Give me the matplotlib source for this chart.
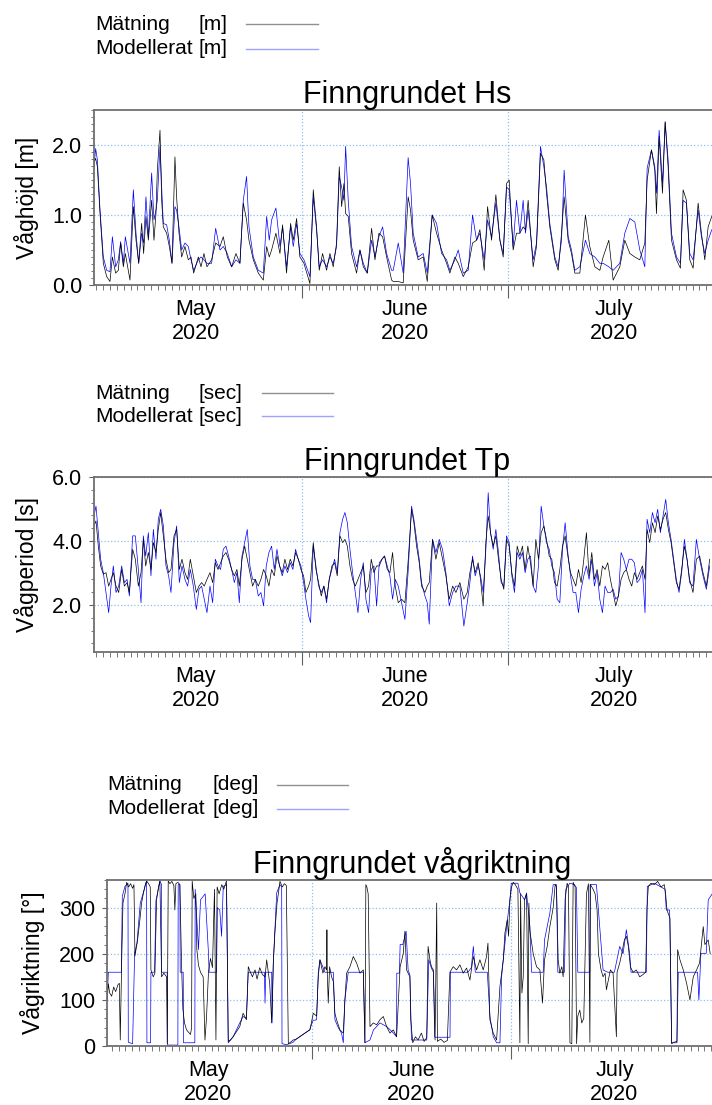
import matplotlib
matplotlib.use('Agg')
import matplotlib.pyplot as plt
import matplotlib.dates as mdates
from matplotlib.lines import Line2D
from matplotlib.ticker import MultipleLocator, FixedLocator, NullFormatter
from datetime import datetime
import numpy as np

plt.rcParams['font.family'] = ['Liberation Sans', 'DejaVu Sans']

#----------------------------------------------------
# Data (days after 2020-05-01 00:00)
#----------------------------------------------------
hs_days = [0.67, 0.91, 1.16, 1.55, 2.03, 2.52, 3.0, 3.35, 3.83, 4.22,
           4.56, 4.95, 5.24, 5.58, 5.92, 6.41, 6.8, 7.19, 7.62, 7.91,
           8.25, 8.6, 9.08, 9.42, 9.71, 9.91, 10.3, 10.54, 10.78, 11.27,
           11.66, 12.05, 12.48, 12.72, 13.07, 13.46, 13.94, 14.43, 14.82, 15.21,
           15.89, 16.28, 16.71, 17.15, 17.83, 18.42, 19.05, 19.53, 20.12, 20.75,
           21.38, 21.96, 22.45, 22.93, 23.28, 23.91, 24.64, 25.37, 25.86, 26.24,
           26.58, 27.21, 27.8, 28.18, 28.76, 29.35, 29.74, 30.23, 30.71, 31.3,
           32.17, 32.66, 33.14, 33.53, 34.02, 34.6, 35.09, 35.57, 36.06, 36.45,
           36.8, 37.13, 37.38, 37.76, 38.25, 38.98, 39.47, 39.96, 40.54, 41.17,
           41.66, 42.24, 42.78, 43.36, 44.09, 44.33, 45.06, 45.78, 46.5, 46.85,
           47.24, 47.97, 48.7, 49.29, 50.01, 50.65, 51.38, 52.11, 52.59, 53.32,
           53.81, 54.54, 55.27, 55.9, 56.48, 56.97, 57.6, 58.09, 58.67, 59.3,
           59.89, 60.37, 60.86, 61.24, 61.82, 62.31, 62.8, 63.28, 63.62, 64.01,
           64.74, 65.23, 65.81, 66.3, 66.69, 67.17, 67.9, 68.39, 68.88, 69.26,
           69.85, 70.33, 70.82, 71.55, 72.37, 73.0, 73.74, 74.47, 74.95, 75.78,
           76.41, 77.38, 78.11, 78.85, 79.57, 80.3, 81.03, 81.37, 82.0, 82.49,
           82.73, 83.12, 83.61, 84.0, 84.43, 84.92, 85.65, 86.23, 86.62, 87.1,
           87.59, 88.08, 88.81, 89.29, 89.78, 90.27, 90.8]
hs_obs = [1.74, 1.81, 1.69, 1.02, 0.31, 0.12, 0.05, 0.40, 0.17, 0.21,
          0.60, 0.26, 0.45, 0.26, 0.07, 1.12, 0.64, 0.31, 0.88, 0.45,
          0.98, 0.64, 1.21, 0.64, 1.02, 1.64, 2.21, 1.21, 0.83, 0.74,
          0.55, 0.31, 1.83, 1.26, 0.74, 0.40, 0.55, 0.36, 0.40, 0.17,
          0.40, 0.26, 0.45, 0.26, 0.36, 0.60, 0.55, 0.69, 0.40, 0.26,
          0.45, 0.31, 1.17, 0.93, 0.64, 0.36, 0.17, 0.07, 0.55, 0.40,
          0.50, 0.74, 0.45, 0.86, 0.17, 0.88, 0.64, 0.95, 0.40, 0.31,
          0.02, 1.36, 0.83, 0.21, 0.45, 0.21, 0.45, 0.26, 0.60, 1.69,
          1.12, 1.45, 1.02, 0.98, 0.45, 0.17, 0.50, 0.26, 0.17, 0.81,
          0.36, 0.74, 0.69, 0.40, 0.07, 0.05, 0.05, 0.03, 1.26, 1.07,
          0.64, 0.36, 0.40, 0.05, 1.00, 0.74, 0.50, 0.31, 0.17, 0.40,
          0.31, 0.12, 0.26, 0.60, 0.64, 0.79, 0.21, 1.12, 0.64, 1.29,
          0.64, 0.40, 1.45, 1.50, 0.50, 0.74, 0.74, 0.83, 0.79, 1.21,
          0.26, 0.55, 1.88, 1.79, 1.31, 0.83, 0.36, 0.21, 0.74, 1.26,
          0.64, 0.45, 0.17, 0.17, 1.00, 0.55, 0.26, 0.21, 0.40, 0.64,
          0.07, 0.26, 0.64, 0.45, 0.40, 0.36, 0.60, 1.50, 1.93, 1.64,
          1.02, 2.12, 1.31, 2.33, 1.69, 0.64, 0.36, 0.24, 1.36, 1.21,
          0.36, 0.24, 1.17, 0.74, 0.36, 0.83, 0.98]
hs_mod = [1.69, 1.95, 1.79, 1.07, 0.40, 0.21, 0.19, 0.69, 0.26, 0.36,
          0.62, 0.31, 0.69, 0.50, 0.31, 1.36, 0.74, 0.31, 0.74, 0.60,
          1.26, 0.69, 1.60, 0.93, 1.07, 1.21, 1.98, 1.40, 0.88, 0.86,
          0.64, 0.31, 1.12, 1.07, 0.83, 0.50, 0.60, 0.55, 0.36, 0.21,
          0.36, 0.40, 0.36, 0.31, 0.31, 0.81, 0.50, 0.55, 0.45, 0.26,
          0.36, 0.31, 1.21, 1.55, 0.83, 0.40, 0.21, 0.17, 0.98, 0.64,
          0.93, 1.10, 0.55, 0.83, 0.26, 0.83, 0.55, 0.88, 0.45, 0.36,
          0.12, 1.26, 0.79, 0.26, 0.36, 0.26, 0.40, 0.31, 0.55, 1.55,
          1.40, 1.21, 1.98, 1.21, 0.55, 0.26, 0.50, 0.31, 0.17, 0.64,
          0.40, 0.69, 0.83, 0.45, 0.21, 0.21, 0.60, 0.17, 1.82, 1.45,
          0.74, 0.40, 0.45, 0.17, 1.00, 0.88, 0.45, 0.36, 0.21, 0.36,
          0.50, 0.17, 0.21, 1.00, 0.64, 0.74, 0.36, 0.93, 0.69, 1.17,
          0.64, 0.45, 1.40, 1.36, 0.55, 1.21, 0.74, 1.21, 0.74, 1.07,
          0.36, 0.60, 1.98, 1.69, 1.40, 0.88, 0.40, 0.26, 0.64, 1.64,
          0.69, 0.50, 0.21, 0.26, 0.64, 0.45, 0.40, 0.31, 0.31, 0.26,
          0.21, 0.31, 0.74, 0.95, 0.90, 0.50, 0.26, 1.67, 1.93, 1.69,
          1.31, 2.21, 1.45, 2.33, 1.79, 0.74, 0.40, 0.31, 1.21, 1.17,
          0.45, 0.36, 1.07, 0.69, 0.45, 0.64, 0.79]

tp_days = [0.67, 0.96, 1.3, 1.64, 2.03, 2.42, 2.81, 3.15, 3.49, 3.88,
           4.27, 4.71, 5.1, 5.49, 5.83, 6.31, 6.7, 7.14, 7.53, 7.87,
           8.21, 8.6, 8.98, 9.33, 9.71, 10.05, 10.4, 10.79, 11.17, 11.56,
           11.9, 12.34, 12.73, 13.12, 13.51, 13.94, 14.33, 14.72, 15.16, 15.6,
           15.98, 16.37, 16.76, 17.15, 17.59, 17.98, 18.37, 18.76, 19.14, 19.53,
           19.92, 20.31, 20.75, 21.14, 21.52, 21.87, 22.26, 22.65, 23.03, 23.42,
           23.81, 24.2, 24.64, 25.02, 25.41, 25.8, 26.19, 26.58, 26.97, 27.36,
           27.75, 28.13, 28.52, 28.91, 29.3, 29.69, 30.08, 30.47, 30.86, 31.25,
           31.59, 31.98, 32.27, 32.66, 33.05, 33.44, 33.83, 34.21, 34.6, 34.99,
           35.38, 35.77, 36.16, 36.55, 36.94, 37.28, 37.63, 38.01, 38.4, 38.79,
           39.18, 39.57, 39.96, 40.34, 40.73, 41.12, 41.51, 41.9, 42.29, 42.68,
           43.06, 43.45, 43.84, 44.23, 44.62, 45.06, 45.54, 46.03, 46.52, 47.0,
           47.34, 47.73, 48.12, 48.46, 48.95, 49.29, 49.58, 50.06, 50.55, 51.04,
           51.52, 52.01, 52.5, 52.99, 53.47, 54.05, 54.63, 55.12, 55.51, 55.9,
           56.28, 56.72, 57.06, 57.45, 57.84, 58.18, 58.52, 58.91, 59.3, 59.68,
           60.07, 60.46, 60.85, 61.24, 61.63, 62.02, 62.41, 62.8, 63.18, 63.57,
           63.96, 64.35, 64.74, 65.13, 65.52, 65.91, 66.3, 66.69, 67.08, 67.46,
           67.85, 68.24, 68.63, 69.02, 69.41, 69.8, 70.19, 70.57, 70.96, 71.35,
           71.74, 72.13, 72.51, 72.9, 73.29, 73.68, 74.07, 74.46, 74.85, 75.23,
           75.62, 76.01, 76.4, 76.79, 77.18, 77.57, 77.95, 78.34, 78.73, 79.12,
           79.51, 79.9, 80.29, 80.68, 81.06, 81.36, 81.75, 82.14, 82.53, 82.91,
           83.3, 83.69, 84.08, 84.47, 84.86, 85.24, 85.63, 86.02, 86.41, 86.8,
           87.19, 87.57, 88.06, 88.55, 89.03, 89.52, 90.01, 90.5]
tp_obs = [4.47, 4.63, 3.84, 3.22, 2.96, 3.01, 2.59, 2.80, 3.01, 2.59,
          2.39, 3.11, 2.59, 2.70, 2.39, 3.74, 3.43, 2.59, 3.01, 4.05,
          3.22, 3.64, 3.11, 3.95, 3.64, 4.36, 4.89, 4.16, 3.43, 3.01,
          3.11, 4.16, 4.36, 3.11, 3.43, 3.01, 2.80, 3.43, 2.91, 2.39,
          2.59, 2.70, 2.59, 2.80, 3.01, 2.70, 3.32, 3.11, 3.32, 3.53,
          3.64, 3.43, 3.11, 2.91, 3.11, 2.59, 3.43, 3.84, 3.43, 3.01,
          2.59, 2.80, 2.59, 2.80, 3.11, 2.91, 2.59, 3.11, 2.91, 3.53,
          3.22, 3.01, 3.43, 3.11, 3.43, 3.22, 3.64, 3.43, 3.11, 2.91,
          2.39, 2.59, 2.80, 3.95, 3.11, 2.70, 2.28, 2.59, 2.18, 2.80,
          3.22, 3.32, 2.91, 4.16, 3.95, 4.05, 3.84, 3.22, 2.80, 2.59,
          2.80, 3.01, 3.22, 2.39, 2.59, 3.43, 3.01, 3.22, 3.22, 3.43,
          3.53, 3.11, 3.01, 3.64, 2.59, 2.07, 2.18, 2.07, 3.43, 4.99,
          4.57, 3.84, 3.32, 2.59, 2.39, 2.59, 2.70, 4.05, 3.43, 3.95,
          3.43, 2.91, 2.18, 2.59, 2.39, 2.70, 2.18, 2.39, 3.01, 3.43,
          3.01, 3.32, 2.80, 1.97, 3.95, 4.78, 4.26, 3.84, 4.16, 3.43,
          2.80, 2.49, 4.05, 3.84, 3.01, 2.59, 3.84, 3.53, 3.84, 3.11,
          3.84, 3.32, 2.59, 4.05, 3.43, 4.26, 4.47, 4.05, 3.53, 3.43,
          2.70, 2.59, 3.11, 3.84, 4.16, 3.53, 3.01, 2.80, 2.59, 3.11,
          2.70, 3.43, 4.26, 2.91, 3.64, 2.80, 3.11, 2.59, 3.22, 3.11,
          3.32, 2.80, 2.39, 1.97, 2.28, 2.80, 3.01, 3.11, 2.80, 2.59,
          3.01, 2.80, 3.01, 3.22, 2.80, 4.36, 3.95, 4.57, 4.26, 4.78,
          4.36, 4.68, 4.89, 4.36, 3.95, 3.32, 2.70, 2.49, 3.11, 3.84,
          3.43, 2.80, 2.39, 3.43, 3.53, 3.01, 2.59, 3.43]
tp_mod = [4.78, 5.09, 4.26, 3.43, 3.01, 2.39, 1.76, 2.59, 3.22, 2.39,
          2.59, 3.22, 2.70, 2.80, 2.28, 4.16, 4.16, 3.11, 2.07, 4.16,
          3.53, 4.26, 2.91, 4.36, 3.43, 4.68, 4.99, 4.47, 3.22, 2.91,
          2.39, 3.95, 4.47, 2.70, 3.22, 2.80, 2.59, 3.11, 2.59, 1.86,
          2.49, 2.59, 2.18, 1.76, 2.59, 2.07, 3.43, 3.22, 3.11, 3.74,
          3.84, 3.53, 3.11, 2.70, 3.01, 2.07, 3.53, 3.95, 4.36, 3.22,
          2.80, 2.80, 2.28, 2.39, 1.97, 3.22, 3.64, 3.84, 3.11, 3.74,
          3.22, 2.91, 3.22, 3.01, 3.32, 3.11, 3.74, 3.43, 3.22, 2.70,
          2.18, 1.66, 1.45, 3.84, 3.22, 2.59, 2.39, 2.59, 2.07, 2.80,
          3.11, 3.43, 3.01, 4.26, 4.68, 4.89, 4.57, 3.74, 3.01, 2.39,
          1.76, 2.80, 3.32, 2.18, 1.76, 3.11, 3.22, 1.97, 3.32, 3.43,
          3.53, 3.22, 2.91, 2.18, 2.80, 2.59, 2.07, 1.55, 3.11, 5.09,
          4.68, 4.05, 3.43, 2.70, 2.28, 2.07, 1.40, 4.05, 3.64, 4.05,
          3.74, 3.01, 1.97, 2.39, 2.59, 2.59, 1.34, 2.07, 2.70, 3.53,
          2.91, 3.22, 2.91, 2.39, 3.74, 5.51, 4.26, 3.74, 4.36, 3.64,
          2.70, 2.59, 4.16, 3.95, 2.91, 2.39, 3.64, 3.43, 3.64, 3.01,
          3.43, 3.53, 2.59, 2.39, 3.22, 5.09, 4.47, 3.95, 3.74, 3.22,
          3.01, 2.18, 2.07, 3.74, 4.57, 3.64, 2.91, 2.39, 2.39, 1.76,
          2.49, 2.91, 3.22, 2.80, 3.43, 2.59, 3.01, 2.18, 1.76, 2.59,
          2.39, 2.39, 2.49, 2.18, 2.28, 3.64, 3.43, 3.11, 3.43, 3.43,
          3.32, 2.70, 2.80, 3.11, 1.76, 4.68, 4.26, 4.89, 4.57, 4.99,
          4.26, 4.78, 5.30, 4.57, 4.05, 3.43, 2.80, 2.39, 3.01, 4.05,
          3.43, 2.70, 2.59, 4.05, 3.43, 2.91, 2.49, 3.22]

dir_obs_days = [0.29, 0.45, 0.65, 0.95, 1.25, 1.55, 1.9, 2.1, 2.24, 2.45,
                2.65, 2.95, 3.2, 3.5, 3.8, 4.1, 4.3, 4.45, 4.85, 5.2,
                5.45, 5.7, 6.0, 6.2, 6.5, 6.75, 6.85, 7.2, 7.45, 7.7,
                8.0, 8.2, 8.45, 8.8, 9.2, 9.3, 9.45, 9.7, 10.0, 10.3,
                10.45, 10.6, 10.9, 11.2, 11.45, 11.65, 11.9, 12.2, 12.5, 12.8,
                12.96, 13.05, 13.3, 13.6, 13.75, 14.0, 14.3, 14.7, 14.97, 15.2,
                15.5, 15.8, 16.1, 16.4, 16.62, 16.8, 17.1, 17.5, 17.8, 18.2,
                18.47, 18.8, 19.2, 19.7, 20.2, 20.7, 21.2, 21.48, 21.8, 22.1,
                22.5, 22.8, 23.2, 23.6, 24.0, 24.25, 24.7, 25.0, 25.24, 25.5,
                25.8, 26.0, 26.24, 26.6, 26.9, 27.2, 27.5, 27.8, 28.24, 28.7,
                29.2, 29.7, 30.2, 30.75, 31.25, 31.75, 32.0, 32.25, 32.7, 33.0,
                33.25, 33.3, 33.35, 33.5, 33.7, 34.0, 34.26, 34.5, 34.75, 35.25,
                35.76, 36.0, 36.26, 36.76, 37.26, 37.76, 38.26, 38.77, 39.02, 39.15,
                39.3, 39.5, 39.77, 40.27, 40.77, 41.27, 41.77, 42.27, 42.77, 43.27,
                43.77, 44.3, 44.77, 45.02, 45.27, 45.77, 45.9, 46.2, 46.6, 47.0,
                47.5, 47.9, 48.3, 48.5, 48.78, 49.0, 49.3, 49.55, 49.8, 49.9,
                50.4, 50.9, 51.4, 51.78, 52.28, 52.78, 53.28, 53.79, 54.29, 54.79,
                55.29, 55.79, 56.29, 56.79, 57.29, 57.5, 57.79, 58.29, 58.8, 59.3,
                59.8, 60.05, 60.4, 60.6, 60.8, 61.05, 61.3, 61.6, 62.0, 62.3,
                62.4, 62.6, 62.8, 63.0, 63.3, 63.55, 63.65, 63.8, 64.3, 64.8,
                65.3, 65.7, 66.0, 66.4, 66.8, 67.3, 67.6, 67.8, 68.05, 68.3,
                68.6, 68.8, 69.1, 69.4, 69.6, 69.82, 70.1, 70.3, 70.6, 70.82,
                71.0, 71.3, 71.6, 71.9, 72.1, 72.3, 72.6, 72.82, 72.9, 73.3,
                73.6, 73.9, 74.1, 74.5, 74.8, 75.1, 75.3, 75.6, 75.9, 76.3,
                76.8, 76.9, 77.3, 77.6, 78.0, 78.3, 78.6, 78.9, 79.3, 79.8,
                80.3, 80.8, 81.2, 81.4, 81.6, 82.0, 82.5, 83.0, 83.5, 84.0,
                84.2, 84.4, 84.85, 85.1, 85.4, 85.9, 86.0, 86.35, 86.85, 87.35,
                87.85, 88.35, 88.85, 89.3, 89.85, 90.1, 90.6, 90.9]
dir_obs = [100, 135, 115, 108, 128, 118, 133, 136, 13, 180,
           310, 330, 355, 345, 352, 342, 350, 195, 230, 275,
           310, 330, 350, 358, 352, 345, 165, 150, 158, 317,
           345, 358, 150, 158, 150, 5, 358, 352, 357, 348,
           295, 352, 355, 350, 180, 80, 50, 35, 30, 25,
           40, 358, 320, 330, 209, 175, 160, 150, 13, 60,
           160, 190, 170, 340, 13, 345, 330, 350, 340, 358,
           10, 13, 20, 31, 42, 71, 57, 172, 160, 150,
           165, 145, 170, 155, 150, 187, 136, 50, 180, 250,
           310, 330, 357, 345, 352, 348, 5, 8, 13, 15,
           20, 25, 30, 35, 71, 65, 150, 187, 158, 172,
           165, 252, 160, 93, 172, 150, 140, 71, 57, 35,
           28, 100, 158, 172, 194, 180, 158, 165, 7, 350,
           345, 330, 42, 50, 46, 57, 64, 42, 28, 35,
           20, 172, 200, 249, 165, 150, 57, 7, 20, 13,
           28, 10, 18, 216, 187, 172, 165, 13, 310, 10,
           15, 8, 12, 160, 172, 165, 176, 158, 169, 143,
           194, 165, 187, 165, 194, 223, 57, 28, 13, 129,
           187, 245, 274, 238, 317, 345, 355, 350, 340, 7,
           330, 115, 150, 317, 330, 5, 310, 250, 200, 172,
           165, 93, 187, 216, 259, 300, 350, 345, 187, 158,
           172, 150, 320, 353, 345, 7, 5, 355, 345, 5,
           65, 78, 50, 60, 200, 330, 352, 8, 350, 340,
           330, 295, 200, 165, 150, 158, 122, 143, 165, 158,
           20, 160, 180, 200, 230, 238, 216, 172, 160, 165,
           150, 155, 160, 300, 346, 353, 350, 357, 345, 350,
           330, 295, 277, 5, 8, 10, 209, 187, 165, 136,
           100, 150, 165, 180, 259, 220, 230, 200]

dir_mod_days = [0.29, 0.45, 2.4, 2.55, 2.95, 3.4, 3.45, 4.1, 4.4, 4.75,
                5.05, 5.25, 5.7, 6.2, 6.25, 6.8, 6.85, 7.4, 7.6, 8.2,
                8.45, 8.46, 9.3, 9.35, 10.9, 10.95, 11.2, 11.25, 11.7, 11.75,
                13.45, 13.5, 14.0, 14.3, 15.0, 15.47, 15.6, 16.72, 16.82, 17.2,
                17.47, 17.72, 18.22, 18.47, 18.8, 19.2, 19.7, 20.2, 20.7, 21.2,
                21.48, 23.9, 24.0, 24.1, 25.0, 25.05, 25.24, 25.5, 25.75, 26.24,
                26.5, 26.55, 27.2, 27.7, 28.2, 28.7, 29.2, 29.7, 30.2, 30.7,
                31.2, 31.75, 32.0, 32.25, 33.0, 34.26, 34.5, 35.0, 35.5, 35.76,
                36.0, 36.5, 38.77, 39.0, 39.77, 40.3, 41.27, 42.3, 43.3, 43.77,
                43.8, 44.2, 44.3, 44.7, 45.2, 45.5, 45.77, 46.0, 48.3, 48.6,
                49.0, 49.3, 49.5, 51.8, 51.85, 54.5, 55.0, 55.3, 55.6, 57.4,
                57.8, 58.3, 58.8, 59.3, 59.55, 60.0, 60.3, 60.8, 61.0, 62.0,
                62.3, 63.0, 63.3, 63.8, 64.05, 64.8, 65.8, 66.0, 66.8, 67.3,
                67.8, 68.0, 69.0, 69.2, 69.8, 70.5, 70.8, 71.0, 72.8, 72.85,
                73.8, 74.1, 74.5, 74.8, 75.5, 76.5, 77.3, 77.8, 78.3, 78.8,
                79.0, 81.3, 81.45, 82.5, 83.5, 84.1, 84.3, 84.8, 85.1, 85.9,
                86.1, 89.0, 89.2, 89.5, 90.3, 90.6, 91.2]
dir_mod = [100, 160, 160, 325, 346, 353, 8, 5, 201, 223,
           274, 310, 332, 358, 7, 7, 160, 160, 315, 358,
           350, 160, 160, 2, 2, 350, 350, 160, 160, 7,
           7, 340, 209, 317, 330, 209, 160, 160, 300, 295,
           238, 346, 350, 7, 13, 20, 35, 50, 64, 60,
           160, 160, 93, 160, 160, 50, 180, 260, 332, 350,
           345, 5, 3, 5, 8, 15, 20, 25, 30, 35,
           55, 57, 160, 187, 160, 160, 57, 40, 28, 7,
           100, 160, 160, 7, 13, 35, 50, 42, 28, 20,
           158, 158, 220, 220, 249, 165, 154, 13, 13, 187,
           169, 160, 19, 19, 160, 160, 170, 216, 160, 160,
           64, 20, 7, 7, 150, 216, 259, 317, 353, 353,
           332, 317, 332, 259, 160, 160, 160, 230, 288, 350,
           350, 160, 160, 340, 353, 350, 343, 160, 160, 350,
           350, 295, 223, 165, 160, 160, 216, 200, 252, 200,
           160, 160, 346, 353, 345, 340, 295, 295, 7, 7,
           160, 160, 100, 201, 201, 317, 330]

month_names = ['May', 'June', 'July']
month_mid_days = [15.5, 46.0, 76.5]

#----------------------------------------------------
# Figure layout (pixels of a 712x1105 canvas)
#----------------------------------------------------
W, H = 712, 1105
fig = plt.figure(figsize=(W / 100, H / 100), dpi=100)
base = mdates.date2num(datetime(2020, 5, 1))

def rect(left, top, right, bottom):
    return [left / W, 1 - bottom / H, (right - left) / W, (bottom - top) / H]

obs_color = '#000000'
mod_color = '#0000ff'
grid_color = '#8fbff0'
lw = 0.5
fs = 15.5

def setup_axis(ax, title, ylabel, xlim, ylim, yticks, ylabels, yminor, ylab_x):
    ax.set_xlim(base + xlim[0], base + xlim[1])
    ax.set_ylim(*ylim)
    ax.xaxis.set_major_locator(mdates.MonthLocator())
    ax.xaxis.set_minor_locator(mdates.DayLocator())
    ax.xaxis.set_major_formatter(NullFormatter())
    ax.yaxis.set_major_locator(FixedLocator(yticks))
    ax.set_yticklabels(ylabels)
    ax.yaxis.set_minor_locator(MultipleLocator(yminor))
    ax.tick_params(axis='x', which='major', length=9.5, width=0.8, color='#606060')
    ax.tick_params(axis='x', which='minor', length=3.5, width=0.6, color='#606060')
    ax.tick_params(axis='y', which='major', length=3.5, width=0.8, color='#606060',
                   labelsize=fs, pad=5)
    ax.tick_params(axis='y', which='minor', length=2.5, width=0.6, color='#606060')
    ax.grid(True, which='major', color=grid_color, linestyle=':', linewidth=0.9)
    for s in ax.spines.values():
        s.set_color('#707070')
        s.set_linewidth(1.3)
    ax.set_title(title, fontsize=22, pad=5)
    ax.set_ylabel(ylabel, fontsize=16.5)
    ax.yaxis.set_label_coords(ylab_x, 0.5)
    for name, d in zip(month_names, month_mid_days):
        ax.annotate(name + '\n2020', xy=(base + d, 0), xycoords=('data', 'axes fraction'),
                    xytext=(0, -10), textcoords='offset points', ha='center', va='top',
                    fontsize=fs, annotation_clip=False)

def legend(x, y1, y2, unit_x, line_x0, line_x1, unit):
    for yy, name, col in [(y1, 'Mätning', '#909090'), (y2, 'Modellerat', '#a0a0ff')]:
        fig.text(x / W, 1 - yy / H, name, fontsize=15, va='center', ha='left')
        fig.text(unit_x / W, 1 - yy / H, unit, fontsize=15, va='center', ha='left')
        fig.add_artist(Line2D([line_x0 / W, line_x1 / W], [1 - yy / H, 1 - yy / H],
                              color=col, linewidth=1.0, transform=fig.transFigure))

#----------------------------------------------------
# Panel 1: Hs
#----------------------------------------------------
ax1 = fig.add_axes(rect(94, 110, 720, 285))
ax1.plot(base + np.array(hs_days), hs_mod, color=mod_color, linewidth=lw)
ax1.plot(base + np.array(hs_days), hs_obs, color=obs_color, linewidth=lw)
setup_axis(ax1, 'Finngrundet Hs', 'Våghöjd [m]', (0.67, 92.0), (0, 2.5),
           [0, 1, 2], ['0.0', '1.0', '2.0'], 0.1, -0.088)
legend(95, 24, 49, 199, 246, 318, '[m]')

#----------------------------------------------------
# Panel 2: Tp
#----------------------------------------------------
ax2 = fig.add_axes(rect(94, 477, 720, 652))
ax2.plot(base + np.array(tp_days), tp_mod, color=mod_color, linewidth=lw)
ax2.plot(base + np.array(tp_days), tp_obs, color=obs_color, linewidth=lw)
setup_axis(ax2, 'Finngrundet Tp', 'Vågperiod [s]', (0.67, 92.0), (0.53, 6.0),
           [2, 4, 6], ['2.0', '4.0', '6.0'], 0.4, -0.088)
legend(95, 393, 416, 199, 262, 333, '[sec]')

#----------------------------------------------------
# Panel 3: direction
#----------------------------------------------------
ax3 = fig.add_axes(rect(107, 880, 718, 1046))
ax3.plot(base + np.array(dir_mod_days), dir_mod, color=mod_color, linewidth=lw)
ax3.plot(base + np.array(dir_obs_days), dir_obs, color=obs_color, linewidth=lw)
setup_axis(ax3, 'Finngrundet vågriktning', 'Vågriktning [°]', (0.25, 92.07), (0, 360),
           [0, 100, 200, 300], ['0', '100', '200', '300'], 20, -0.102)
legend(107, 785, 809, 212, 277, 348, '[deg]')

fig.savefig('out.png', dpi=100)
